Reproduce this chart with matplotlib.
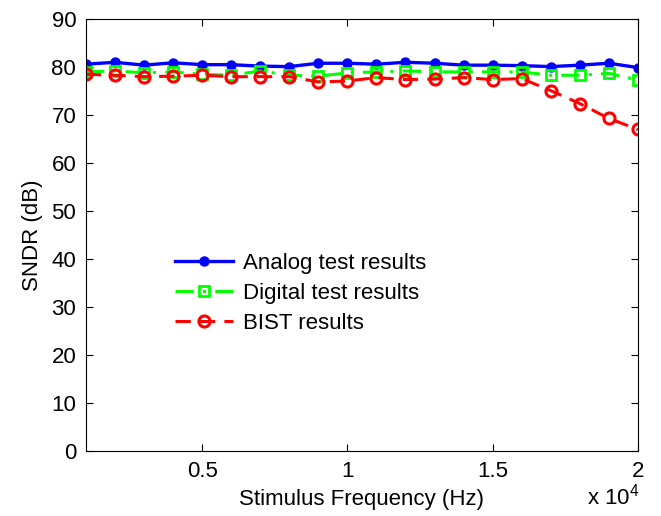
import matplotlib

matplotlib.use("Agg")
import matplotlib.pyplot as plt


# Stimulus frequencies (Hz)
freq_hz = [1000, 2000, 3000, 4000, 5000, 6000, 7000, 8000, 9000, 10000,
           11000, 12000, 13000, 14000, 15000, 16000, 17000, 18000, 19000, 20000]

# SNDR (dB)
analog_sndr = [80.6, 81.0, 80.4, 80.9, 80.5, 80.5, 80.2, 80.1, 80.8, 80.8,
               80.6, 81.0, 80.8, 80.4, 80.4, 80.3, 80.1, 80.4, 80.8, 79.9]
digital_sndr = [79.0, 79.2, 78.8, 79.0, 78.5, 78.3, 79.2, 78.3, 78.1, 78.8,
                79.0, 79.2, 79.0, 79.0, 79.0, 79.0, 78.3, 78.3, 78.7, 77.3]
bist_sndr = [78.5, 78.3, 78.0, 78.1, 78.3, 78.0, 78.0, 78.0, 76.9, 77.1,
             77.8, 77.4, 77.5, 77.8, 77.4, 77.6, 75.1, 72.4, 69.3, 67.0]

x_ticks = [5000, 10000, 15000, 20000]
x_tick_labels = ["0.5", "1", "1.5", "2"]
y_ticks = [0, 10, 20, 30, 40, 50, 60, 70, 80, 90]

plt.rcParams["font.family"] = ["Liberation Sans", "DejaVu Sans"]

figure = plt.figure(figsize=(6.61, 5.16), dpi=100)
axis = figure.add_axes([0.130, 0.126, 0.835, 0.837])

axis.plot(
    freq_hz,
    analog_sndr,
    color="#0000ff",
    linestyle="-",
    linewidth=2.4,
    marker="o",
    markersize=6.5,
    label="Analog test results",
)

axis.plot(
    freq_hz,
    digital_sndr,
    color="#00ff00",
    linestyle=(0, (6, 3, 1, 3)),
    linewidth=2.2,
    marker="s",
    markersize=7,
    markerfacecolor="none",
    markeredgewidth=2,
    label="Digital test results",
)

axis.plot(
    freq_hz,
    bist_sndr,
    color="#ff0000",
    linestyle=(0, (5, 3)),
    linewidth=2.2,
    marker="o",
    markersize=8,
    markerfacecolor="none",
    markeredgewidth=2.2,
    label="BIST results",
)

axis.set_xlim(1000, 20000)
axis.set_ylim(0, 90)
axis.set_xticks(x_ticks)
axis.set_xticklabels(x_tick_labels)
axis.set_yticks(y_ticks)

axis.tick_params(
    direction="in",
    top=True,
    right=True,
    labelsize=16,
    length=5,
    pad=7,
)

axis.set_xlabel("Stimulus Frequency (Hz)", fontsize=16, labelpad=5)
axis.set_ylabel("SNDR (dB)", fontsize=16, labelpad=6)

figure.text(
    0.967,
    0.012,
    r"x $\mathregular{10^{4}}$",
    ha="right",
    va="bottom",
    fontsize=16,
)

axis.legend(
    loc="center left",
    bbox_to_anchor=(0.125, 0.365),
    frameon=False,
    fontsize=16,
    handlelength=2.6,
    handletextpad=0.45,
    labelspacing=0.4,
)

figure.savefig("out.png", dpi=100)
plt.close(figure)
